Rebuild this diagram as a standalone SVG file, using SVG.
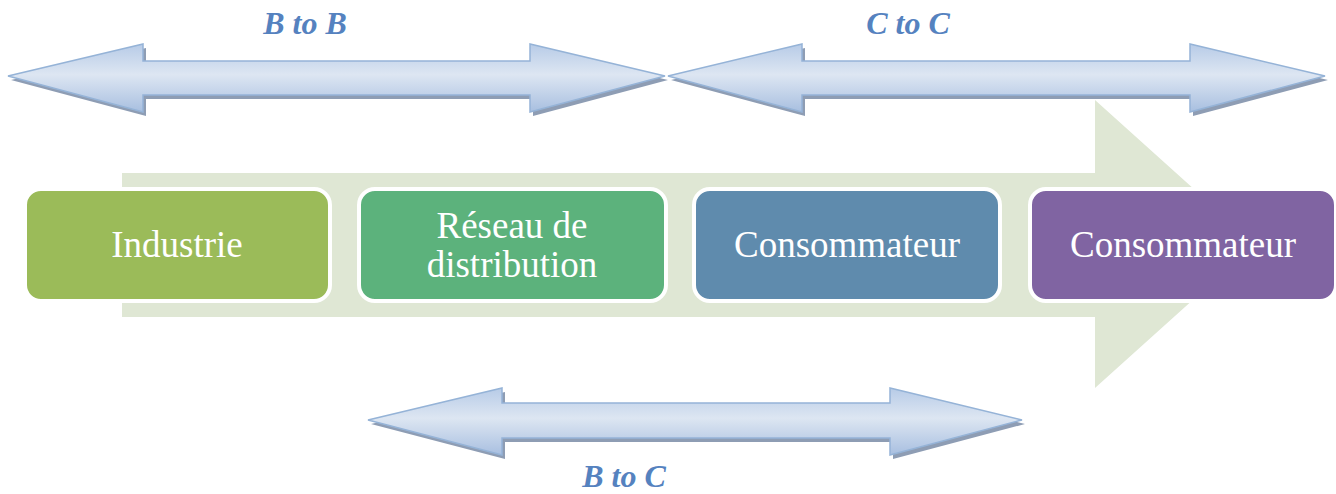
<svg xmlns="http://www.w3.org/2000/svg" width="1336" height="494" viewBox="0 0 1336 494">
<style>
.box{stroke:#fff;stroke-width:4}
.bt{font-family:"Liberation Serif",serif;font-size:37px;fill:#fff;text-anchor:middle}
.lbl{font-family:"Liberation Serif",serif;font-size:32px;font-weight:bold;font-style:italic;fill:#5582bf;text-anchor:middle}
.arr{fill:url(#ag);stroke:#95b3d7;stroke-width:1.5}
.sh{fill:#8e9db4}
</style>
<defs>
<linearGradient id="ag" x1="0" y1="0" x2="0" y2="1">
<stop offset="0" stop-color="#b7cbe7"/>
<stop offset="0.45" stop-color="#dde6f2"/>
<stop offset="1" stop-color="#a8bfe0"/>
</linearGradient>
</defs>
<g id="bigarrow">
<polygon points="122,173 1095,173 1095,100 1255,244 1095,388 1095,317 122,317" fill="#dfe7d4"/>
</g>
<g id="connectors">
<g id="arrow-btob">
<path class="sh" transform="translate(3,4)" d="M8,76 L143,44 L143,61 L530,61 L530,44 L665,76 L530,112 L530,95 L143,95 L143,112 Z"/>
<path class="arr" d="M8,76 L143,44 L143,61 L530,61 L530,44 L665,76 L530,112 L530,95 L143,95 L143,112 Z"/>
</g>
<g id="arrow-ctoc">
<path class="sh" transform="translate(3,4)" d="M668,76 L802,44 L802,61 L1190,61 L1190,44 L1325,76 L1190,112 L1190,95 L802,95 L802,112 Z"/>
<path class="arr" d="M668,76 L802,44 L802,61 L1190,61 L1190,44 L1325,76 L1190,112 L1190,95 L802,95 L802,112 Z"/>
</g>
<g id="arrow-btoc">
<path class="sh" transform="translate(3,4)" d="M368,420 L502,388 L502,403 L890,403 L890,388 L1022,420 L890,455 L890,438 L502,438 L502,455 Z"/>
<path class="arr" d="M368,420 L502,388 L502,403 L890,403 L890,388 L1022,420 L890,455 L890,438 L502,438 L502,455 Z"/>
</g>
</g>
<g id="node-industrie">
<rect class="box" x="25" y="189" width="305" height="112" rx="16" fill="#9bbb59"/>
<text class="bt" x="177" y="257">Industrie</text>
</g>
<g id="node-reseau">
<rect class="box" x="359" y="189" width="307" height="112" rx="16" fill="#5cb27c"/>
<text class="bt" x="512" y="238">Réseau de</text>
<text class="bt" x="512" y="277">distribution</text>
</g>
<g id="node-consommateur1">
<rect class="box" x="694" y="189" width="306" height="112" rx="16" fill="#5f8bad"/>
<text class="bt" x="847" y="257">Consommateur</text>
</g>
<g id="node-consommateur2">
<rect class="box" x="1030" y="189" width="306" height="112" rx="16" fill="#8064a2"/>
<text class="bt" x="1183" y="257">Consommateur</text>
</g>
<g id="labels">
<text class="lbl" x="305" y="34">B to B</text>
<text class="lbl" x="908" y="34">C to C</text>
<text class="lbl" x="624" y="487">B to C</text>
</g>
</svg>
